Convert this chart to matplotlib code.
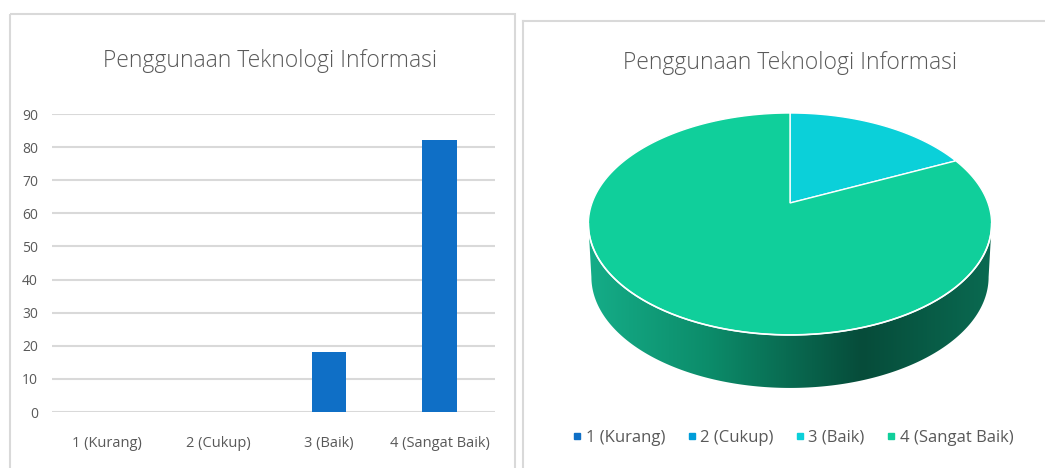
import numpy as np
import matplotlib
matplotlib.use("Agg")
import matplotlib.pyplot as plt
from matplotlib.patches import Polygon, Rectangle
from matplotlib.lines import Line2D
from matplotlib.colors import LinearSegmentedColormap

plt.rcParams['font.family'] = ['Open Sans', 'DejaVu Sans']

# data
kategori = ['1 (Kurang)', '2 (Cukup)', '3 (Baik)', '4 (Sangat Baik)']
jumlah = [0, 0, 18, 82]
judul = 'Penggunaan Teknologi Informasi'
warna = ['#0f6fc6', '#009dd9', '#0bd0d9', '#10cf9b']
teks = '#595959'

W, H = 1045, 468
fig = plt.figure(figsize=(W / 100, H / 100), dpi=100)

# panel frames (pixel overlay)
bg = fig.add_axes([0, 0, 1, 1])
bg.set_xlim(0, W)
bg.set_ylim(H, 0)
bg.axis('off')
bg.add_patch(Rectangle((10, 14), 505, 470, fill=False, edgecolor='#d9d9d9', lw=1.5))
bg.plot([523, W], [21, 21], color='#d9d9d9', lw=1.5)
bg.plot([523, 523], [21, H], color='#d9d9d9', lw=1.5)

# ---- bar chart ----
ax = fig.add_axes([52 / W, (H - 412) / H, 443 / W, 298 / H])
x = np.arange(len(kategori))
ax.bar(x, jumlah, width=0.31, color=warna[0], zorder=3)
ax.set_xlim(-0.5, 3.5)
ax.set_ylim(0, 90)
ax.set_yticks(range(0, 91, 10))
ax.grid(axis='y', color='#d9d9d9', lw=1.5, zorder=0)
for s in ax.spines.values():
    s.set_visible(False)
ax.set_xticks(x)
ax.set_xticklabels(kategori)
ax.tick_params(axis='y', length=0, pad=10, labelcolor=teks, labelsize=10)
ax.tick_params(axis='x', length=0, pad=17, labelcolor=teks, labelsize=10.5)
fig.text(270 / W, 1 - 61 / H, judul, ha='center', va='center', fontsize=16.5,
         color=teks, fontweight='light')

# ---- 3D pie ----
fig.text(790 / W, 1 - 63 / H, judul, ha='center', va='center', fontsize=16.5,
         color=teks, fontweight='light')

cx, cy = 790, 203
c = 0.189
sy = 107
rx = 198
depth = 53


def proj(a, dy=0.0, k=1.0):
    u = np.sin(a)
    v = np.cos(a)
    den = 1 + c * v
    return cx + k * rx * u / den, cy - sy * v / den + dy


# side of the pie (front half), gradient fill
a0 = np.arccos(-c)
a1 = 2 * np.pi - a0
aa = np.linspace(a0, a1, 200)
tx, ty = proj(aa)
bx, by = proj(aa[::-1], depth, 0.985)
side = Polygon(np.column_stack([np.r_[tx, bx], np.r_[ty, by]]), closed=True,
               facecolor='none', edgecolor='none')
bg.add_patch(side)
cmap = LinearSegmentedColormap.from_list(
    'sisi', [(0, '#15ad88'), (0.3, '#0c8c6a'), (0.68, '#064c3a'), (1, '#0a6a51')])
grad = np.linspace(0, 1, 256)[None, :]
im = bg.imshow(grad, cmap=cmap, extent=(tx.min(), tx.max(), by.max() + 2, ty.min() - 2),
               aspect='auto', zorder=1)
im.set_clip_path(side)

# top face wedges: start at 12 o'clock, clockwise
total = float(sum(jumlah))
mulai = 0.0
for val, col in zip(jumlah, warna):
    if val <= 0:
        continue
    akhir = mulai + 2 * np.pi * val / total
    aa = np.linspace(mulai, akhir, 200)
    px, py = proj(aa)
    pts = np.column_stack([np.r_[cx, px], np.r_[cy, py]])
    bg.add_patch(Polygon(pts, closed=True, facecolor=col, edgecolor='white',
                         lw=1.0, zorder=2))
    mulai = akhir

# white highlight on front rim
aa = np.linspace(a0, a1, 200)
fx, fy = proj(aa)
bg.plot(fx, fy, color='white', lw=1.2, zorder=3)
bg.set_xlim(0, W)
bg.set_ylim(H, 0)

# legend
handles = [Line2D([], [], marker='s', ls='none', color=col, markersize=4.5)
           for col in warna]
fig.legend(handles, kategori, loc='center', bbox_to_anchor=(792 / W, 1 - 438 / H),
           ncol=4, frameon=False, fontsize=12, labelcolor=teks,
           handletextpad=0.1, columnspacing=1.2, handlelength=0.8)

fig.savefig('out.png', dpi=100)
